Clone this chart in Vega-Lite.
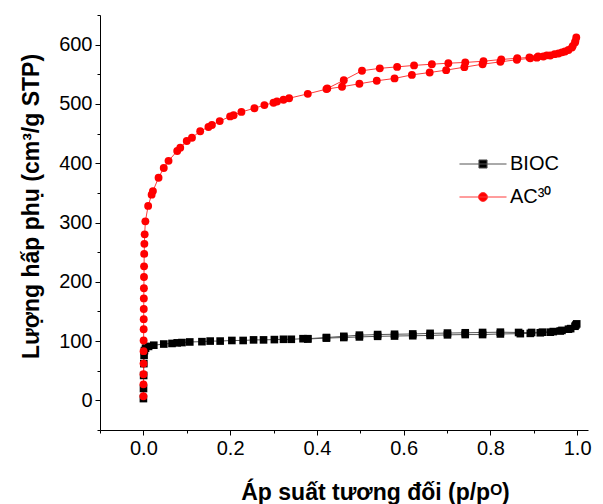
{
  "$schema": "https://vega.github.io/schema/vega-lite/v6.json",
  "width": 488,
  "height": 415,
  "autosize": {"type": "none"},
  "padding": {"left": 100, "top": 15, "right": 15, "bottom": 74},
  "background": "white",
  "config": {
    "view": {"stroke": null},
    "font": "Liberation Sans",
    "axis": {"domainColor": "black", "tickColor": "black", "labelColor": "black", "titleColor": "black", "grid": false, "domainWidth": 1, "tickWidth": 1, "labelFont": "Liberation Sans", "titleFont": "Liberation Sans"},
    "legend": {"title": null, "orient": "none", "padding": 0, "labelFontSize": 20, "labelFont": "Liberation Sans", "labelColor": "black", "labelOffset": 17, "symbolSize": 196, "symbolStrokeWidth": 1, "symbolOpacity": 1}
  },
  "data": {
    "values": [
      {"s": "BIOC", "i": 1, "p": 0.0001, "v": 3},
      {"s": "BIOC", "i": 2, "p": 0.0003, "v": 20},
      {"s": "BIOC", "i": 3, "p": 0.0006, "v": 42},
      {"s": "BIOC", "i": 4, "p": 0.001, "v": 62},
      {"s": "BIOC", "i": 5, "p": 0.0016, "v": 76},
      {"s": "BIOC", "i": 6, "p": 0.0025, "v": 84},
      {"s": "BIOC", "i": 7, "p": 0.005, "v": 88},
      {"s": "BIOC", "i": 8, "p": 0.012, "v": 91},
      {"s": "BIOC", "i": 9, "p": 0.024, "v": 93},
      {"s": "BIOC", "i": 10, "p": 0.047, "v": 95},
      {"s": "BIOC", "i": 11, "p": 0.066, "v": 96},
      {"s": "BIOC", "i": 12, "p": 0.078, "v": 97},
      {"s": "BIOC", "i": 13, "p": 0.089, "v": 97.5},
      {"s": "BIOC", "i": 14, "p": 0.107, "v": 98.5},
      {"s": "BIOC", "i": 15, "p": 0.135, "v": 99},
      {"s": "BIOC", "i": 16, "p": 0.154, "v": 100},
      {"s": "BIOC", "i": 17, "p": 0.177, "v": 100},
      {"s": "BIOC", "i": 18, "p": 0.204, "v": 101},
      {"s": "BIOC", "i": 19, "p": 0.23, "v": 101},
      {"s": "BIOC", "i": 20, "p": 0.254, "v": 102},
      {"s": "BIOC", "i": 21, "p": 0.277, "v": 102},
      {"s": "BIOC", "i": 22, "p": 0.302, "v": 102.5},
      {"s": "BIOC", "i": 23, "p": 0.323, "v": 103},
      {"s": "BIOC", "i": 24, "p": 0.341, "v": 103},
      {"s": "BIOC", "i": 25, "p": 0.368, "v": 104},
      {"s": "BIOC", "i": 26, "p": 0.379, "v": 103.5},
      {"s": "BIOC", "i": 27, "p": 0.422, "v": 105},
      {"s": "BIOC", "i": 28, "p": 0.462, "v": 106},
      {"s": "BIOC", "i": 29, "p": 0.498, "v": 107},
      {"s": "BIOC", "i": 30, "p": 0.54, "v": 108},
      {"s": "BIOC", "i": 31, "p": 0.579, "v": 108.5},
      {"s": "BIOC", "i": 32, "p": 0.621, "v": 109},
      {"s": "BIOC", "i": 33, "p": 0.661, "v": 109.5},
      {"s": "BIOC", "i": 34, "p": 0.701, "v": 110.5},
      {"s": "BIOC", "i": 35, "p": 0.742, "v": 111},
      {"s": "BIOC", "i": 36, "p": 0.782, "v": 111},
      {"s": "BIOC", "i": 37, "p": 0.823, "v": 112},
      {"s": "BIOC", "i": 38, "p": 0.869, "v": 112.5},
      {"s": "BIOC", "i": 39, "p": 0.892, "v": 113},
      {"s": "BIOC", "i": 40, "p": 0.915, "v": 114},
      {"s": "BIOC", "i": 41, "p": 0.938, "v": 115},
      {"s": "BIOC", "i": 42, "p": 0.961, "v": 117},
      {"s": "BIOC", "i": 43, "p": 0.98, "v": 120},
      {"s": "BIOC", "i": 44, "p": 0.995, "v": 125},
      {"s": "BIOC", "i": 45, "p": 0.999, "v": 129},
      {"s": "BIOC", "i": 46, "p": 0.997, "v": 127},
      {"s": "BIOC", "i": 47, "p": 0.985, "v": 121},
      {"s": "BIOC", "i": 48, "p": 0.965, "v": 118},
      {"s": "BIOC", "i": 49, "p": 0.945, "v": 116},
      {"s": "BIOC", "i": 50, "p": 0.92, "v": 115},
      {"s": "BIOC", "i": 51, "p": 0.895, "v": 114.5},
      {"s": "BIOC", "i": 52, "p": 0.865, "v": 114.5},
      {"s": "BIOC", "i": 53, "p": 0.823, "v": 115},
      {"s": "BIOC", "i": 54, "p": 0.782, "v": 114.5},
      {"s": "BIOC", "i": 55, "p": 0.742, "v": 114},
      {"s": "BIOC", "i": 56, "p": 0.701, "v": 113.5},
      {"s": "BIOC", "i": 57, "p": 0.661, "v": 113},
      {"s": "BIOC", "i": 58, "p": 0.621, "v": 112},
      {"s": "BIOC", "i": 59, "p": 0.579, "v": 111.5},
      {"s": "BIOC", "i": 60, "p": 0.54, "v": 111},
      {"s": "BIOC", "i": 61, "p": 0.498, "v": 110},
      {"s": "BIOC", "i": 62, "p": 0.462, "v": 108},
      {"s": "BIOC", "i": 63, "p": 0.422, "v": 106},
      {"s": "BIOC", "i": 64, "p": 0.379, "v": 104},
      {"s": "AC³⁰", "i": 1, "p": 0.0001, "v": 7},
      {"s": "AC³⁰", "i": 2, "p": 0.0002, "v": 27},
      {"s": "AC³⁰", "i": 3, "p": 0.0003, "v": 44},
      {"s": "AC³⁰", "i": 4, "p": 0.0004, "v": 62},
      {"s": "AC³⁰", "i": 5, "p": 0.0005, "v": 83},
      {"s": "AC³⁰", "i": 6, "p": 0.0006, "v": 101},
      {"s": "AC³⁰", "i": 7, "p": 0.0007, "v": 120},
      {"s": "AC³⁰", "i": 8, "p": 0.0008, "v": 137},
      {"s": "AC³⁰", "i": 9, "p": 0.0009, "v": 154},
      {"s": "AC³⁰", "i": 10, "p": 0.001, "v": 172},
      {"s": "AC³⁰", "i": 11, "p": 0.0012, "v": 189},
      {"s": "AC³⁰", "i": 12, "p": 0.0014, "v": 208},
      {"s": "AC³⁰", "i": 13, "p": 0.0016, "v": 226},
      {"s": "AC³⁰", "i": 14, "p": 0.0019, "v": 247},
      {"s": "AC³⁰", "i": 15, "p": 0.0023, "v": 264},
      {"s": "AC³⁰", "i": 16, "p": 0.003, "v": 280},
      {"s": "AC³⁰", "i": 17, "p": 0.0046, "v": 302},
      {"s": "AC³⁰", "i": 18, "p": 0.011, "v": 328},
      {"s": "AC³⁰", "i": 19, "p": 0.019, "v": 347},
      {"s": "AC³⁰", "i": 20, "p": 0.022, "v": 353},
      {"s": "AC³⁰", "i": 21, "p": 0.035, "v": 375.5},
      {"s": "AC³⁰", "i": 22, "p": 0.047, "v": 392},
      {"s": "AC³⁰", "i": 23, "p": 0.058, "v": 404},
      {"s": "AC³⁰", "i": 24, "p": 0.078, "v": 420.6},
      {"s": "AC³⁰", "i": 25, "p": 0.085, "v": 426},
      {"s": "AC³⁰", "i": 26, "p": 0.1, "v": 437.5},
      {"s": "AC³⁰", "i": 27, "p": 0.112, "v": 443},
      {"s": "AC³⁰", "i": 28, "p": 0.131, "v": 454},
      {"s": "AC³⁰", "i": 29, "p": 0.15, "v": 461},
      {"s": "AC³⁰", "i": 30, "p": 0.158, "v": 464.5},
      {"s": "AC³⁰", "i": 31, "p": 0.176, "v": 471},
      {"s": "AC³⁰", "i": 32, "p": 0.2, "v": 479},
      {"s": "AC³⁰", "i": 33, "p": 0.208, "v": 481},
      {"s": "AC³⁰", "i": 34, "p": 0.226, "v": 486.5},
      {"s": "AC³⁰", "i": 35, "p": 0.256, "v": 492.7},
      {"s": "AC³⁰", "i": 36, "p": 0.279, "v": 498},
      {"s": "AC³⁰", "i": 37, "p": 0.3, "v": 502},
      {"s": "AC³⁰", "i": 38, "p": 0.308, "v": 504},
      {"s": "AC³⁰", "i": 39, "p": 0.323, "v": 507},
      {"s": "AC³⁰", "i": 40, "p": 0.336, "v": 509.6},
      {"s": "AC³⁰", "i": 41, "p": 0.379, "v": 517},
      {"s": "AC³⁰", "i": 42, "p": 0.422, "v": 525},
      {"s": "AC³⁰", "i": 43, "p": 0.458, "v": 529},
      {"s": "AC³⁰", "i": 44, "p": 0.498, "v": 534},
      {"s": "AC³⁰", "i": 45, "p": 0.538, "v": 539},
      {"s": "AC³⁰", "i": 46, "p": 0.579, "v": 543},
      {"s": "AC³⁰", "i": 47, "p": 0.619, "v": 549},
      {"s": "AC³⁰", "i": 48, "p": 0.66, "v": 553},
      {"s": "AC³⁰", "i": 49, "p": 0.698, "v": 557},
      {"s": "AC³⁰", "i": 50, "p": 0.74, "v": 562},
      {"s": "AC³⁰", "i": 51, "p": 0.782, "v": 567},
      {"s": "AC³⁰", "i": 52, "p": 0.823, "v": 571},
      {"s": "AC³⁰", "i": 53, "p": 0.861, "v": 574.5},
      {"s": "AC³⁰", "i": 54, "p": 0.892, "v": 577},
      {"s": "AC³⁰", "i": 55, "p": 0.907, "v": 578},
      {"s": "AC³⁰", "i": 56, "p": 0.922, "v": 580},
      {"s": "AC³⁰", "i": 57, "p": 0.938, "v": 581.6},
      {"s": "AC³⁰", "i": 58, "p": 0.957, "v": 585},
      {"s": "AC³⁰", "i": 59, "p": 0.972, "v": 588.5},
      {"s": "AC³⁰", "i": 60, "p": 0.988, "v": 595},
      {"s": "AC³⁰", "i": 61, "p": 0.995, "v": 603.6},
      {"s": "AC³⁰", "i": 62, "p": 0.998, "v": 612},
      {"s": "AC³⁰", "i": 63, "p": 0.996, "v": 606},
      {"s": "AC³⁰", "i": 64, "p": 0.99, "v": 598},
      {"s": "AC³⁰", "i": 65, "p": 0.98, "v": 591},
      {"s": "AC³⁰", "i": 66, "p": 0.965, "v": 587},
      {"s": "AC³⁰", "i": 67, "p": 0.948, "v": 584},
      {"s": "AC³⁰", "i": 68, "p": 0.93, "v": 582},
      {"s": "AC³⁰", "i": 69, "p": 0.91, "v": 580},
      {"s": "AC³⁰", "i": 70, "p": 0.89, "v": 578.5},
      {"s": "AC³⁰", "i": 71, "p": 0.862, "v": 577},
      {"s": "AC³⁰", "i": 72, "p": 0.825, "v": 575},
      {"s": "AC³⁰", "i": 73, "p": 0.784, "v": 572},
      {"s": "AC³⁰", "i": 74, "p": 0.742, "v": 570},
      {"s": "AC³⁰", "i": 75, "p": 0.703, "v": 568.7},
      {"s": "AC³⁰", "i": 76, "p": 0.665, "v": 567},
      {"s": "AC³⁰", "i": 77, "p": 0.624, "v": 565},
      {"s": "AC³⁰", "i": 78, "p": 0.585, "v": 562.5},
      {"s": "AC³⁰", "i": 79, "p": 0.545, "v": 560},
      {"s": "AC³⁰", "i": 80, "p": 0.504, "v": 556},
      {"s": "AC³⁰", "i": 81, "p": 0.462, "v": 540},
      {"s": "AC³⁰", "i": 82, "p": 0.424, "v": 526}
    ]
  },
  "layer": [
    {
      "transform": [{"filter": "datum.s === 'BIOC'"}],
      "mark": {"type": "line", "strokeWidth": 1, "color": "#555555"},
      "encoding": {
        "x": {"field": "p", "type": "quantitative", "scale": {"domain": [-0.1, 1.025], "nice": false, "zero": false},
          "axis": {"orient": "bottom", "values": [-0.1, 0.1, 0.3, 0.5, 0.7, 0.9], "tickSize": 3, "labels": false, "domain": false, "title": null}},
        "y": {"field": "v", "type": "quantitative", "scale": {"domain": [-50, 650], "nice": false, "zero": false},
          "axis": {"orient": "left", "values": [-50, 50, 150, 250, 350, 450, 550, 650], "tickSize": 3, "labels": false, "domain": false, "title": null}},
        "order": {"field": "i", "type": "quantitative"}
      }
    },
    {
      "transform": [{"filter": "datum.s !== 'BIOC'"}],
      "mark": {"type": "line", "strokeWidth": 1, "color": "#ff3a3a"},
      "encoding": {
        "x": {"field": "p", "type": "quantitative", "axis": null},
        "y": {"field": "v", "type": "quantitative", "axis": null},
        "order": {"field": "i", "type": "quantitative"}
      }
    },
    {
      "transform": [{"filter": "datum.s === 'BIOC'"}],
      "mark": {"type": "point", "filled": true, "opacity": 1, "size": 58, "shape": "square"},
      "encoding": {
        "x": {"field": "p", "type": "quantitative",
          "axis": {"orient": "bottom", "values": [0, 0.2, 0.4, 0.6, 0.8, 1.0], "format": ".1f", "tickSize": 5, "labelFontSize": 20, "labelPadding": 3,
            "title": "Áp suất tương đối (p/pᴼ)", "titleFontSize": 23, "titleFontWeight": "bold", "titleX": 275, "titleY": 69, "titleBaseline": "alphabetic"}},
        "y": {"field": "v", "type": "quantitative",
          "axis": {"orient": "left", "values": [0, 100, 200, 300, 400, 500, 600], "tickSize": 5, "labelFontSize": 20, "labelPadding": 3,
            "title": "Lượng hấp phụ (cm³/g STP)", "titleFontSize": 23, "titleFontWeight": "bold", "titleX": -57, "titleY": 191}},
        "fill": {"field": "s", "type": "nominal", "scale": {"domain": ["BIOC"], "range": ["#000000"]},
          "legend": {"legendX": 373, "legendY": 139, "symbolType": "M-3.36,0H3.36M-0.58,-0.58H0.58V0.58H-0.58Z", "symbolStrokeColor": "#555555", "symbolFillColor": "#000000"}}
      }
    },
    {
      "transform": [{"filter": "datum.s !== 'BIOC'"}],
      "mark": {"type": "point", "filled": true, "opacity": 1, "size": 62, "shape": "circle"},
      "encoding": {
        "x": {"field": "p", "type": "quantitative", "axis": null},
        "y": {"field": "v", "type": "quantitative", "axis": null},
        "color": {"field": "s", "type": "nominal", "scale": {"domain": ["AC³⁰"], "range": ["#ff0000"]},
          "legend": {"legendX": 373, "legendY": 172, "symbolType": "M-3.36,0H3.36M0.64,0A0.64,0.64,0,1,1,-0.64,0A0.64,0.64,0,1,1,0.64,0Z", "symbolStrokeColor": "#ff3a3a", "symbolFillColor": "#ff0000"}}
      }
    }
  ],
  "resolve": {"axis": {"x": "independent", "y": "independent"}}
}
